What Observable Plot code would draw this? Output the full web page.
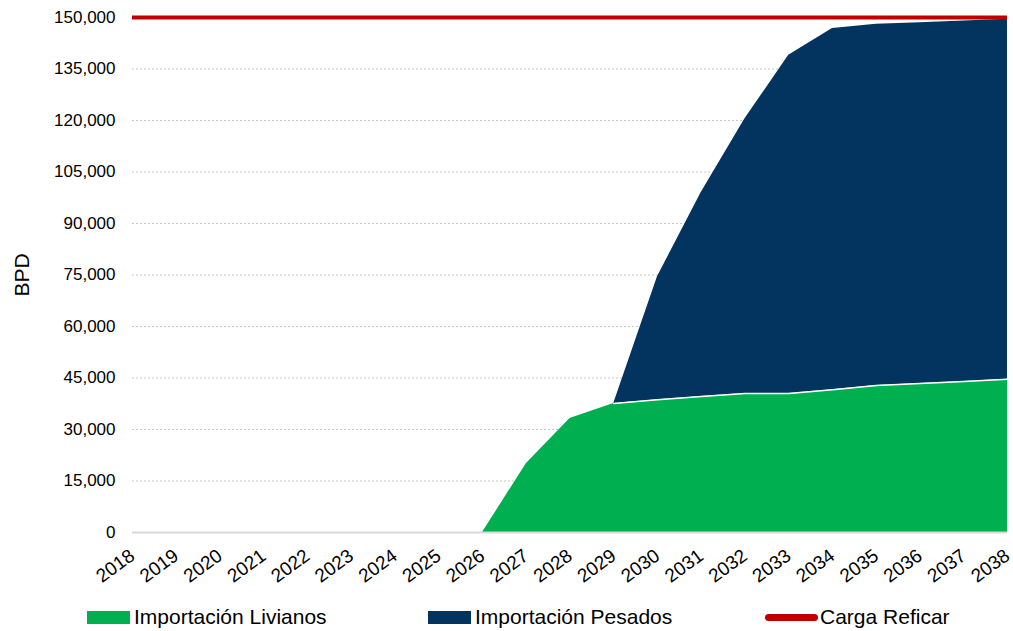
<!DOCTYPE html>
<html>
<head>
<meta charset="utf-8">
<script src="https://cdn.jsdelivr.net/npm/d3@7"></script>
<script src="https://cdn.jsdelivr.net/npm/@observablehq/plot@0.6"></script>
<style>
  html, body { margin: 0; padding: 0; background: #fff; }
  #wrap { position: relative; width: 1013px; height: 631px; font-family: "Liberation Sans", Arial, sans-serif; overflow: hidden; }
  .leg { position: absolute; top: 604px; height: 26px; display: flex; align-items: center; font-size: 21px; color: #000; white-space: nowrap; }
  .sw { display: inline-block; margin-right: 4px; }
  #ylab { position: absolute; left: 22px; top: 275px; transform: translate(-50%, -50%) rotate(-90deg); font-size: 21px; color: #000; white-space: nowrap; }
</style>
</head>
<body>
<div id="wrap"></div>
<script>
const years = [2018,2019,2020,2021,2022,2023,2024,2025,2026,2027,2028,2029,2030,2031,2032,2033,2034,2035,2036,2037,2038];
const livianos = [0,0,0,0,0,0,0,0,0,20000,33200,37600,38700,39600,40500,40500,41600,42800,43400,44000,44600];
const pesados  = [0,0,0,0,0,0,0,0,0,0,0,0,35800,59400,80000,98500,105200,105200,105100,105000,104900];
const cargaReficar = 150000;
const seriesNames = ["Importación Livianos", "Importación Pesados"];
const seriesColors = ["#00b050", "#03335f"];
const yTicks = [0,15000,30000,45000,60000,75000,90000,105000,120000,135000,150000];
const yLabel = "BPD";

// keep points where the series is nonzero or adjacent to a nonzero point
function trimmed(vals, name) {
  return years.map((yr, i) => ({year: yr, value: vals[i], series: name}))
    .filter((d, i) => vals[i] > 0 || (vals[i+1] ?? 0) > 0 || (vals[i-1] ?? 0) > 0);
}
const tidy = [...trimmed(livianos, seriesNames[0]), ...trimmed(pesados, seriesNames[1])];
const sep = years.map((yr, i) => ({year: yr, value: livianos[i]})).filter((d, i) => pesados[i] > 0 || (pesados[i+1] ?? 0) > 0);

const chart = Plot.plot({
  width: 1013,
  height: 595,
  marginTop: 17,
  marginLeft: 132,
  marginRight: 6,
  marginBottom: 63,
  style: { fontFamily: "'Liberation Sans', Arial, sans-serif", fontSize: "17px", color: "#000", background: "#fff", overflow: "visible" },
  x: { type: "linear", domain: [2018, 2038], label: null },
  y: { domain: [0, 150000], label: null },
  color: { domain: seriesNames, range: seriesColors },
  marks: [
    Plot.gridY(yTicks.filter(d => d > 0 && d < 150000), { stroke: "#c8c8c8", strokeOpacity: 1, strokeDasharray: "2,2" }),
    Plot.areaY(tidy, { x: "year", y: "value", fill: "series", order: seriesNames }),
    Plot.line(sep, { x: "year", y: "value", stroke: "#fff", strokeWidth: 1.5 }),
    Plot.ruleY([0], { stroke: "#d9d9d9", strokeWidth: 2 }),
    Plot.ruleY([cargaReficar], { stroke: "#c00000", strokeWidth: 4 }),
    Plot.axisY(yTicks, { tickFormat: d3.format(","), tickSize: 0, tickPadding: 17, label: null, fontSize: 17 }),
    Plot.axisX(years, { tickFormat: d => String(d), tickRotate: -36, tickSize: 0, tickPadding: 21, label: null, fontSize: 19 })
  ]
});
chart.style.position = "absolute";
chart.style.left = "0px";
chart.style.top = "0px";
const wrap = document.getElementById("wrap");
wrap.appendChild(chart);

const yl = document.createElement("div");
yl.id = "ylab";
yl.textContent = yLabel;
wrap.appendChild(yl);

const legendItems = [
  { label: seriesNames[0], left: 87, type: "rect", color: seriesColors[0] },
  { label: seriesNames[1], left: 428, type: "rect", color: seriesColors[1] },
  { label: "Carga Reficar", left: 765, type: "line", color: "#c00000" }
];
for (const it of legendItems) {
  const d = document.createElement("div");
  d.className = "leg";
  d.style.left = it.left + "px";
  const sw = document.createElement("span");
  sw.className = "sw";
  if (it.type === "rect") {
    sw.style.width = "43px"; sw.style.height = "13px"; sw.style.background = it.color;
  } else {
    sw.style.width = "53px"; sw.style.height = "7px"; sw.style.background = it.color; sw.style.borderRadius = "4px"; sw.style.marginRight = "2px";
  }
  d.appendChild(sw);
  d.appendChild(document.createTextNode(it.label));
  wrap.appendChild(d);
}
</script>
</body>
</html>
